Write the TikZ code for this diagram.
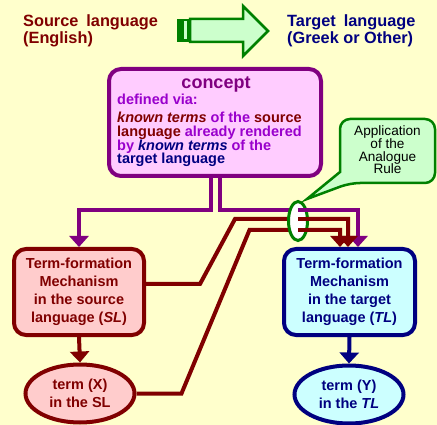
\documentclass[tikz,border=0pt]{standalone}
\usepackage{fontspec}
\setmainfont{Liberation Sans}
\usetikzlibrary{arrows.meta,shapes.geometric}
\definecolor{bg}{HTML}{FFFFCC}
\definecolor{dred}{HTML}{800000}
\definecolor{navy}{HTML}{000080}
\definecolor{purp}{HTML}{800080}
\definecolor{vio}{HTML}{9900CC}
\definecolor{gr}{HTML}{008000}
\definecolor{lgr}{HTML}{CCFFCC}
\definecolor{pinkf}{HTML}{FFCCFF}
\definecolor{rosef}{HTML}{FFCCCC}
\definecolor{cyanf}{HTML}{CCFFFF}
\newcommand\mytightls{\lineskiplimit=-20pt\relax}
\begin{document}
\begin{tikzpicture}[x=1pt,y=-1pt,
  tip/.style={-{Triangle[width=19pt,length=11pt]}},
  conn/.style={line width=4pt},
  box/.style={rectangle,rounded corners=12pt,line width=4pt,minimum height=86pt,inner sep=0pt,align=center,font=\fontsize{14.5}{18}\selectfont\bfseries},
  termnode/.style={ellipse,line width=4pt,minimum width=109pt,minimum height=58pt,inner sep=0pt,align=center,font=\fontsize{14.5}{18}\selectfont\bfseries},
  hdr/.style={inner sep=0pt,align=left,anchor=west,font=\fontsize{16.3}{17}\selectfont\bfseries},
  cline/.style={inner sep=0pt,anchor=base west,font=\fontsize{14.5}{14}\selectfont\bfseries},
]
\fill[bg] (0,0) rectangle (437,425);
\useasboundingbox (0,0) rectangle (437,425);

% header
\node[hdr,text=dred] (src) at (23,31) {Source\hspace{8pt}language\\(English)};
\node[hdr,text=navy] (tgt) at (287,31) {Target\hspace{8pt}language\\(Greek or Other)};
\fill[gr] (177,19) rectangle (190,42);
\fill[lgr] (183.5,21.5) rectangle (186.5,39.5);
\draw[gr,fill=lgr,line width=2.5pt] (190,19) -- (243,19) -- (243,6) -- (268,31) -- (243,56) -- (243,42) -- (190,42) -- cycle;

% concept box
\node[rectangle,rounded corners=12pt,line width=4pt,draw=purp,fill=pinkf,minimum width=212pt,minimum height=107pt,inner sep=0pt] (concept) at (215,122.5) {};
\node[inner sep=0pt,anchor=base,text=purp,font=\fontsize{18}{18}\selectfont\bfseries] (ctitle) at (216,89) {concept};
\node[cline,text=vio] (c1) at (117,105) {defined via:};
\node[cline] (c2) at (117,123) {\textcolor{dred}{\itshape known terms} \textcolor{vio}{of the} \textcolor{dred}{source}};
\node[cline] (c3) at (117,137) {\textcolor{dred}{language} \textcolor{vio}{already rendered}};
\node[cline] (c4) at (117,151) {\textcolor{vio}{by} \textcolor{navy}{\itshape known terms} \textcolor{vio}{of the}};
\node[cline,text=navy] (c5) at (117,164) {target language};

% callout
\draw[gr,fill=lgr,line width=2.5pt] (340,172) [rounded corners=10pt] -- (340,119) -- (435,119) -- (435,183) -- (350,183) [sharp corners] -- (307,199) -- cycle;
\node[inner sep=0pt,align=center,font=\fontsize{13.6}{12.6}\selectfont\mytightls] (rule) at (387.5,150) {Application\\of the\\Analogue\\Rule};

% mechanism boxes
\node[box,draw=dred,fill=rosef,text=dred,minimum width=130pt] (SL) at (79,292) {Term-formation\\Mechanism\\in the source\\language (\textit{SL})};
\node[box,draw=navy,fill=cyanf,text=navy,minimum width=131pt] (TL) at (349.5,292) {Term-formation\\Mechanism\\in the target\\language (\textit{TL})};

% terms
\node[termnode,draw=dred,fill=rosef,text=dred] (termX) at (80,393.5) {term (X)\\in the SL};
\node[termnode,draw=navy,fill=cyanf,text=navy] (termY) at (349,394.5) {term (Y)\\in the \textit{TL}};

% connectors
\draw[conn,dred,tip] (SL.south) -- (termX.north);
\draw[conn,navy,tip] (TL.south) -- (termY.north);
\draw[conn,purp,tip] ([xshift=-4pt]concept.south) -- ++(0,32) -| (SL.north);
\draw[conn,purp,tip] ([xshift=5pt]concept.south) -- ++(0,32) coordinate (pr) -| ([xshift=8.5pt]TL.north);
\draw[conn,dred,tip] ([yshift=8pt]SL.east) -- ++(54,0) -- ++(35,-65) coordinate (ru) -| ([xshift=-1.5pt]TL.north);
\draw[conn,dred,tip] (termX.east) -- ++(45,0) -- ++(68,-163.5) coordinate (rl) -| ([xshift=-9.5pt]TL.north);

% analogue ring
\node[ellipse,draw=gr,fill=white,line width=3pt,minimum width=19pt,minimum height=39pt,inner sep=0pt] (ring) at (298,221) {};
\draw[conn,purp] (ring.center |- pr) -- ([xshift=4pt]ring.east |- pr);
\draw[conn,dred] (ring.center |- ru) -- ([xshift=4pt]ring.east |- ru);
\draw[conn,dred] (ring.center |- rl) -- ([xshift=4pt]ring.east |- rl);
\end{tikzpicture}
\end{document}
